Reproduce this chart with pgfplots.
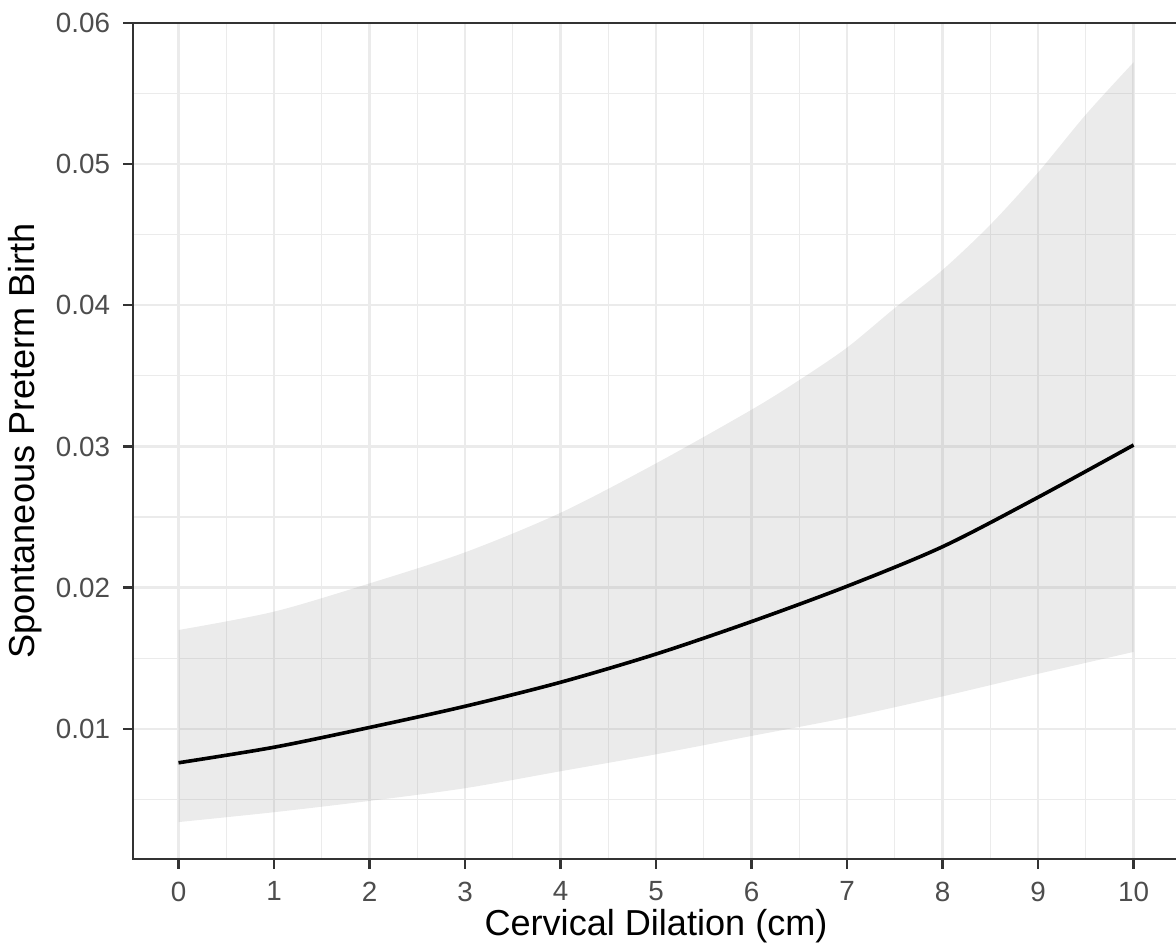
\documentclass[border=0pt]{standalone}
\usepackage{pgfplots}
\pgfplotsset{compat=1.18}
\usepgfplotslibrary{fillbetween}
\usepackage{fontspec}
\setmainfont{Liberation Sans}
\definecolor{grey92}{HTML}{EBEBEB}
\definecolor{grey30}{HTML}{4D4D4D}
\definecolor{grey20}{HTML}{333333}
\definecolor{ribbon}{HTML}{999999}

\begin{document}
\begin{tikzpicture}
\begin{axis}[scale only axis,width=376.6pt,height=301pt,
  xmin=-0.476,xmax=10.476,ymin=0.0008,ymax=0.06,
  axis line style={grey20,line width=0.9pt},
  xtick={0,...,10},ytick={0.01,0.02,0.03,0.04,0.05,0.06},
  yticklabels={0.01,0.02,0.03,0.04,0.05,0.06},scaled y ticks=false,
  minor xtick={0.5,1.5,...,9.5},
  minor ytick={0.005,0.015,0.025,0.035,0.045,0.055},
  grid=both,major grid style={grey92,line width=0.9pt},
  minor grid style={grey92,line width=0.45pt},
  tick align=outside,major tick length=3.6pt,minor tick length=0pt,
  tick style={grey20,line width=0.9pt},
  xtick pos=bottom,ytick pos=left,
  /pgf/number format/assume math mode=true,
  tick label style={font=\fontsize{10}{12}\selectfont,text=grey30},
  yticklabel style={anchor=east,inner sep=0pt,xshift=-4.5pt},
  xticklabel style={anchor=north,inner sep=0pt,yshift=-4.5pt},
  label style={font=\fontsize{13}{15}\selectfont,text=black},
  xlabel={Cervical Dilation (cm)},ylabel={Spontaneous Preterm Birth},
  xlabel style={at={(axis description cs:0.5,0)},anchor=base,inner sep=0pt,yshift=-27.6pt},
  ylabel style={at={(axis description cs:-0.1033,0.5)},anchor=center}]
\addplot[name path=up,draw=none,smooth] coordinates {
  (0,0.0170) (1,0.0183) (2,0.0203) (3,0.0225) (4,0.0253) (5,0.0288)
  (6,0.0326) (6.5,0.0347) (7,0.0370) (7.5,0.0398) (8,0.0425) (8.5,0.0457)
  (9,0.0494) (9.5,0.0535) (10,0.0572)};
\addplot[name path=lo,draw=none,smooth] coordinates {
  (0,0.0034) (1,0.0041) (2,0.0049) (3,0.0058) (4,0.0070) (5,0.0082)
  (6,0.0095) (7,0.0108) (8,0.0123) (9,0.0139) (10,0.01545)};
\addplot[fill=ribbon,fill opacity=0.2,draw=none] fill between[of=up and lo];
\addplot[black,line width=1.3pt,smooth] coordinates {
  (0,0.0076) (1,0.0087) (2,0.0101) (3,0.0116) (4,0.0133) (5,0.0153)
  (6,0.0176) (7,0.0201) (8,0.0229) (9,0.0264) (10,0.0301)};
\end{axis}
\pgfresetboundingbox
\path[use as bounding box] (-47.9pt,-33.5pt) rectangle (375.5pt,309.2pt);
\end{tikzpicture}
\end{document}
